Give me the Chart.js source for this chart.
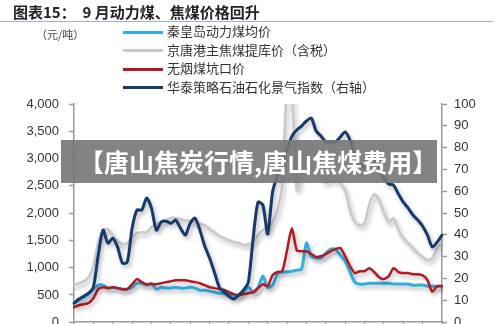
<!DOCTYPE html>
<html>
<head>
<meta charset="utf-8">
<script src="https://cdn.jsdelivr.net/npm/chart.js@4.4.1/dist/chart.umd.min.js"></script>
<style>
  body { margin: 0; width: 500px; height: 324px; overflow: hidden; background: #fff; position: relative;
         font-family: "Noto Sans CJK SC", "Liberation Sans", sans-serif; }
  #title { position: absolute; left: 13px; top: 1px; font-size: 15px; font-weight: bold; color: #222; white-space: pre; }
  #rule { position: absolute; left: 0; top: 21px; width: 493px; height: 1px; background: #9fb3cd; }
  #unit { position: absolute; left: 36px; top: 26px; font-size: 11px; color: #444; }
  #legend { position: absolute; left: 123px; top: 22px; font-size: 13px; color: #333; }
  #legend div { height: 18.5px; line-height: 18px; white-space: nowrap; }
  #legend span.sw { display: inline-block; width: 40px; height: 3px; vertical-align: middle; margin-right: 4px; }
  #wrap { position: absolute; left: 0; top: 0; width: 500px; height: 340px; }
  #mark { position: absolute; left: 61px; top: 140px; width: 376px; height: 43px; background: rgba(118,118,118,0.9);
          color: #fff; font-size: 25px; font-weight: bold; line-height: 43px; padding-left: 18px; box-sizing: border-box; white-space: nowrap; }
</style>
</head>
<body>
<div id="wrap"><canvas id="chart" width="500" height="340"></canvas></div>
<div id="title">图表15：  9 月动力煤、焦煤价格回升</div>
<div id="rule"></div>
<div id="unit">（元/吨）</div>
<div id="legend"></div>
<div id="mark">【唐山焦炭行情,唐山焦煤费用】</div>
<script>
// weekly points, 4 per tick interval
const weeks = Array.from({ length: 77 }, (_, i) => i + 1);

// 秦皇岛动力煤均价 (元/吨)
const qhdPrice = [350, 405, 460, 515, 605, 680, 680, 625, 640, 625, 605, 605, 640, 715, 715, 680,
  715, 605, 640, 625, 625, 640, 625, 625, 640, 625, 585, 585, 570, 550, 530, 530, 515, 495, 495, 550,
  640, 550, 640, 845, 640, 680, 880, 920, 920, 935, 955, 975, 1450, 1210, 1175, 1175, 1265, 1340, 1340,
  1230, 1120, 920, 735, 700, 700, 715, 715, 715, 715, 715, 700, 700, 700, 700, 680, 680, 680, 660, 660, 660, 660];
// 京唐港主焦煤提库价（含税）
const jtgPrice = [680, 715, 750, 825, 1030, 1470, 1690, 1705, 1595, 1485, 1430, 1450, 1560, 1635, 1650, 1650,
  1745, 1800, 1835, 1870, 1910, 1910, 1890, 1870, 1855, 1835, 1800, 1780, 1705, 1650, 1580, 1540, 1505, 1470,
  1450, 1415, 1430, 1470, 1595, 1690, 1725, 1835, 2055, 2515, 4300, 4150, 2420, 2880, 3190, 3300, 3010, 2790,
  2550, 2590, 2605, 2550, 2420, 2055, 1835, 1780, 1815, 2165, 2350, 2240, 2000, 1835, 1910, 1690, 1540, 1450,
  1360, 1265, 1195, 1140, 1175, 1360, 1470];
// 无烟煤坑口价
const wycPrice = [275, 310, 330, 350, 440, 605, 640, 625, 640, 625, 605, 605, 695, 790, 735, 695, 695, 695,
  715, 735, 750, 770, 770, 770, 750, 735, 715, 680, 640, 625, 605, 590, 550, 515, 495, 515, 530, 550, 625,
  695, 660, 860, 920, 935, 1320, 1720, 1320, 1300, 1300, 1250, 1195, 1210, 1250, 1300, 1340, 1360, 1210,
  1030, 900, 935, 935, 990, 920, 825, 790, 845, 990, 920, 900, 900, 880, 880, 860, 770, 560, 660, 660];
// 华泰策略石油石化景气指数（右轴）
const htIndex = [8.7, 10.6, 11.9, 13.3, 16.1, 30.7, 42.2, 36.2, 38.5, 34.4, 27.1, 27.5, 43.1, 51.4, 51.4,
  56.9, 52.3, 42.2, 45.9, 46.3, 45.4, 46.8, 43.1, 39.9, 45.4, 47.7, 42.2, 34.9, 29.4, 22.9, 16.1, 13.8, 11.9,
  10.6, 12.4, 14.7, 18.3, 38.5, 55, 53.7, 40.4, 59.6, 67.4, 73.4, 78.9, 85.3, 88.1, 89.9, 92.2, 93.6, 87.6,
  85.3, 82.6, 82.6, 82.6, 84.9, 87.2, 83.5, 77.1, 72.5, 71.1, 74.3, 75.7, 69.7, 66.1, 63.3, 62.8, 58.7, 55,
  52.3, 49.1, 46.8, 44, 39.9, 34.4, 36.7, 39.9];

const seriesNames = ['秦皇岛动力煤均价', '京唐港主焦煤提库价（含税）', '无烟煤坑口价', '华泰策略石油石化景气指数（右轴）'];
const seriesColors = ['#2eaee2', '#c9c9c9', '#b11a22', '#173a6c'];

// soft drop shadow under every line
const shadowPlugin = {
  id: 'shadow',
  beforeDatasetDraw(chart) {
    const ctx = chart.ctx;
    ctx.save();
    ctx.shadowColor = 'rgba(0,0,0,0.28)';
    ctx.shadowBlur = 4;
    ctx.shadowOffsetX = 2;
    ctx.shadowOffsetY = 3;
  },
  afterDatasetDraw(chart) {
    chart.ctx.restore();
  }
};

const axisColor = '#999';
const tickFont = { family: '"Liberation Sans", Arial, sans-serif', size: 13 };

const chart = new Chart(document.getElementById('chart'), {
  type: 'line',
  plugins: [shadowPlugin],
  data: {
    labels: weeks,
    datasets: [
      { label: seriesNames[0], data: qhdPrice, borderColor: seriesColors[0], borderWidth: 3, yAxisID: 'y', order: 2 },
      { label: seriesNames[1], data: jtgPrice, borderColor: seriesColors[1], borderWidth: 2.5, yAxisID: 'y', order: 3 },
      { label: seriesNames[2], data: wycPrice, borderColor: seriesColors[2], borderWidth: 2.5, yAxisID: 'y', order: 1 },
      { label: seriesNames[3], data: htIndex, borderColor: seriesColors[3], borderWidth: 3, yAxisID: 'y1', order: 0 }
    ]
  },
  options: {
    responsive: false,
    animation: false,
    layout: { padding: { top: 104, left: 0, right: 0, bottom: 0 } },
    elements: { point: { radius: 0 }, line: { tension: 0.25, borderCapStyle: 'round', borderJoinStyle: 'round' } },
    plugins: { legend: { display: false }, tooltip: { enabled: false } },
    scales: {
      x: {
        type: 'category',
        offset: false,
        ticks: { display: false },
        grid: { drawOnChartArea: false, drawTicks: true, tickLength: 5, tickWidth: 1.5,
                tickColor: c => (c.index % 4 === 0 ? axisColor : 'rgba(0,0,0,0)') },
        border: { color: axisColor, width: 1.5 }
      },
      y: {
        position: 'left',
        min: 0, max: 4000,
        ticks: { stepSize: 500, color: '#333', font: tickFont, padding: 10,
                 callback: v => v.toLocaleString('en-US') },
        grid: { drawOnChartArea: false, tickLength: 5, tickWidth: 1.5, color: axisColor },
        border: { color: axisColor, width: 1.5 },
        afterFit: s => { s.width = 74; }
      },
      y1: {
        position: 'right',
        min: 0, max: 100,
        ticks: { stepSize: 10, color: '#333', font: tickFont, padding: 7 },
        grid: { drawOnChartArea: false, tickLength: 5, tickWidth: 1.5, color: axisColor },
        border: { color: axisColor, width: 1.5 },
        afterFit: s => { s.width = 58; }
      }
    }
  }
});

// legend list in the header, built from the datasets
const legendBox = document.getElementById('legend');
chart.data.datasets.forEach(ds => {
  const row = document.createElement('div');
  row.innerHTML = '<span class="sw" style="background:' + ds.borderColor + '"></span>' + ds.label;
  legendBox.appendChild(row);
});
</script>
</body>
</html>
